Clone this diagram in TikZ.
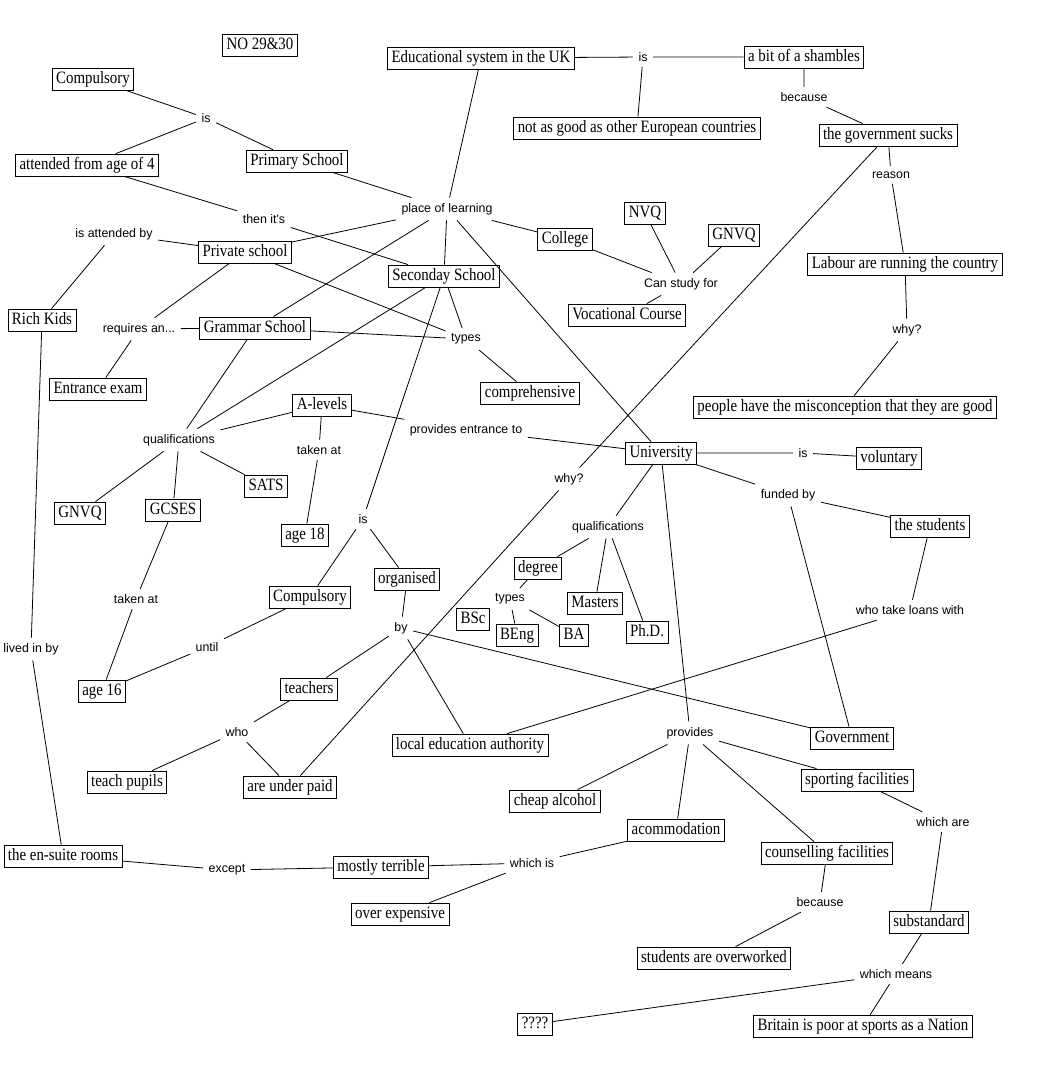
\documentclass[tikz,border=0pt]{standalone}
\usepackage{fontspec}
\setmainfont[FakeStretch=0.86]{Liberation Serif}
\newfontfamily\phrasefont{Liberation Sans}
\usepackage{tikz}

\tikzset{
  concept/.style={draw, line width=0.6pt, rectangle, inner xsep=3pt, inner ysep=2pt,
    text height=9.5pt, text depth=3pt, font=\fontsize{13}{15}\selectfont},
  phrase/.style={inner sep=4pt, font=\phrasefont\fontsize{9.3}{11}\selectfont},
  conn/.style={line width=0.6pt}
}

\begin{document}
\begin{tikzpicture}[x=0.75pt,y=-0.75pt]
  \useasboundingbox (0,0) rectangle (1048,1079);

  % Concepts, left half
  \node[concept] (no2930) at (260,45) {NO 29\&30};
  \node[concept] (compA) at (93,79) {Compulsory};
  \node[concept] (attended) at (87,165) {attended from age of 4};
  \node[concept] (primary) at (297,161) {Primary School};
  \node[concept] (private) at (245,252) {Private school};
  \node[concept] (secondary) at (444,276) {Seconday School};
  \node[concept] (rich) at (42,320) {Rich Kids};
  \node[concept] (grammar) at (255,328) {Grammar School};
  \node[concept] (entrance) at (98,389) {Entrance exam};
  \node[concept] (compr) at (530,393) {comprehensive};
  \node[concept] (alevels) at (322,405) {A-levels};
  \node[concept] (sats) at (266,486) {SATS};
  \node[concept] (gnvqB) at (80,513) {GNVQ};
  \node[concept] (gcses) at (173,510) {GCSES};
  \node[concept] (age18) at (305,535) {age 18};
  \node[concept] (compB) at (310,597) {Compulsory};
  \node[concept] (organised) at (407,579) {organised};
  \node[concept] (age16) at (102,691) {age 16};
  \node[concept] (teachers) at (309,689) {teachers};
  \node[concept] (lea) at (470,745) {local education authority};
  \node[concept] (pupils) at (127,782) {teach pupils};
  \node[concept] (underpaid) at (290,787) {are under paid};
  \node[concept] (ensuite) at (63,856) {the en-suite rooms};
  \node[concept] (terrible) at (381,867) {mostly terrible};
  \node[concept] (expensive) at (400,914) {over expensive};

  % Concepts, right half
  \node[concept] (edu) at (481,58) {Educational system in the UK};
  \node[concept] (shambles) at (804,57) {a bit of a shambles};
  \node[concept] (notgood) at (637,128) {not as good as other European countries};
  \node[concept] (govsucks) at (888,135) {the government sucks};
  \node[concept] (college) at (565,239) {College};
  \node[concept] (nvq) at (645,213) {NVQ};
  \node[concept] (gnvqA) at (734,235) {GNVQ};
  \node[concept] (labour) at (905,264) {Labour are running the country};
  \node[concept] (vocational) at (627,315) {Vocational Course};
  \node[concept] (people) at (845,407) {people have the misconception that they are good};
  \node[concept] (uni) at (661,453) {University};
  \node[concept] (voluntary) at (889,458) {voluntary};
  \node[concept] (students) at (930,526) {the students};
  \node[concept] (degree) at (538,568) {degree};
  \node[concept] (bsc) at (473,619) {BSc};
  \node[concept] (beng) at (517,635) {BEng};
  \node[concept] (ba) at (574,635) {BA};
  \node[concept] (masters) at (595,603) {Masters};
  \node[concept] (phd) at (647,632) {Ph.D.};
  \node[concept] (government) at (852,738) {Government};
  \node[concept] (alcohol) at (555,801) {cheap alcohol};
  \node[concept] (sporting) at (857,780) {sporting facilities};
  \node[concept] (accom) at (676,830) {acommodation};
  \node[concept] (counselling) at (827,853) {counselling facilities};
  \node[concept] (overworked) at (714,958) {students are overworked};
  \node[concept] (substandard) at (929,922) {substandard};
  \node[concept] (qmarks) at (535,1024) {????};
  \node[concept] (britain) at (863,1026) {Britain is poor at sports as a Nation};

  % Linking phrases
  \node[phrase] (lIs1) at (206,118) {is};
  \node[phrase] (lPlace) at (447,209) {place of learning};
  \node[phrase] (lThen) at (264,219) {then it's};
  \node[phrase] (lAttBy) at (114,234) {is attended by};
  \node[phrase] (lReq) at (139,329) {requires an...};
  \node[phrase] (lTypes1) at (466,339) {types};
  \node[phrase] (lQual1) at (179,440) {qualifications};
  \node[phrase] (lTaken1) at (319,450) {taken at};
  \node[phrase] (lProv) at (466,430) {provides entrance to};
  \node[phrase] (lIs2) at (363,519) {is};
  \node[phrase] (lTaken2) at (136,599) {taken at};
  \node[phrase] (lBy) at (401,628) {by};
  \node[phrase] (lLived) at (31,649) {lived in by};
  \node[phrase] (lUntil) at (207,647) {until};
  \node[phrase] (lWho) at (237,732) {who};
  \node[phrase] (lIs3) at (643,57) {is};
  \node[phrase] (lBec1) at (804,97) {because};
  \node[phrase] (lReason) at (891,175) {reason};
  \node[phrase] (lCan) at (681,284) {Can study for};
  \node[phrase] (lWhy1) at (907,330) {why?};
  \node[phrase] (lIs4) at (803,453) {is};
  \node[phrase] (lWhy2) at (569,479) {why?};
  \node[phrase] (lFund) at (788,495) {funded by};
  \node[phrase] (lQual2) at (608,527) {qualifications};
  \node[phrase] (lTypes2) at (510,599) {types};
  \node[phrase] (lLoans) at (910,610) {who take loans with};
  \node[phrase] (lProvides) at (690,733) {provides};
  \node[phrase] (lWhichAre) at (943,822) {which are};
  \node[phrase] (lWhichIs) at (532,863) {which is};
  \node[phrase] (lExcept) at (227,870) {except};
  \node[phrase] (lBec2) at (820,902) {because};
  \node[phrase] (lMeans) at (896,974) {which means};

  % Connections, schools
  \draw[conn] (compA) -- (lIs1) (lIs1) -- (attended) (lIs1) -- (primary);
  \draw[conn] (attended) -- (lThen) (lThen) -- (secondary);
  \draw[conn] (primary) -- (lPlace) (edu) -- (lPlace);
  \draw[conn] (lPlace) -- (private) (lPlace) -- (grammar) (lPlace) -- (secondary)
    (lPlace) -- (college) (lPlace) -- (uni);
  \draw[conn] (private) -- (lAttBy) (lAttBy) -- (rich);
  \draw[conn] (private) -- (lReq) (grammar) -- (lReq) (lReq) -- (entrance);
  \draw[conn] (private) -- (lTypes1) (grammar) -- (lTypes1) (secondary) -- (lTypes1)
    (lTypes1) -- (compr);
  \draw[conn] (grammar) -- (lQual1) (secondary) -- (lQual1);
  \draw[conn] (lQual1) -- (alevels) (lQual1) -- (gnvqB) (lQual1) -- (gcses) (lQual1) -- (sats);
  \draw[conn] (alevels) -- (lTaken1) (lTaken1) -- (age18);
  \draw[conn] (alevels) -- (lProv) (lProv) -- (uni);
  \draw[conn] (gcses) -- (lTaken2) (lTaken2) -- (age16);
  \draw[conn] (secondary) -- (lIs2) (lIs2) -- (compB) (lIs2) -- (organised);
  \draw[conn] (compB) -- (lUntil) (lUntil) -- (age16);
  \draw[conn] (organised) -- (lBy) (lBy) -- (teachers) (lBy) -- (lea) (lBy) -- (government);
  \draw[conn] (teachers) -- (lWho) (lWho) -- (pupils) (lWho) -- (underpaid);
  \draw[conn] (rich) -- (lLived) (lLived) -- (ensuite);

  % Connections, the system
  \draw[conn] (edu) -- (lIs3) (lIs3) -- (shambles) (lIs3) -- (notgood);
  \draw[conn] (shambles) -- (lBec1) (lBec1) -- (govsucks);
  \draw[conn] (govsucks) -- (lReason) (lReason) -- (labour);
  \draw[conn] (labour) -- (lWhy1) (lWhy1) -- (people);
  \draw[conn] (govsucks) -- (lWhy2) (lWhy2) -- (underpaid);
  \draw[conn] (college) -- (lCan) (nvq) -- (lCan) (gnvqA) -- (lCan) (lCan) -- (vocational);

  % Connections, university
  \draw[conn] (uni) -- (lIs4) (lIs4) -- (voluntary);
  \draw[conn] (uni) -- (lFund) (lFund) -- (students) (lFund) -- (government);
  \draw[conn] (students) -- (lLoans) (lLoans) -- (lea);
  \draw[conn] (uni) -- (lQual2) (lQual2) -- (degree) (lQual2) -- (masters) (lQual2) -- (phd);
  \draw[conn] (degree) -- (lTypes2) (lTypes2) -- (bsc) (lTypes2) -- (beng) (lTypes2) -- (ba);
  \draw[conn] (uni) -- (lProvides);
  \draw[conn] (lProvides) -- (alcohol) (lProvides) -- (accom) (lProvides) -- (counselling)
    (lProvides) -- (sporting);
  \draw[conn] (accom) -- (lWhichIs) (lWhichIs) -- (terrible) (lWhichIs) -- (expensive);
  \draw[conn] (terrible) -- (lExcept) (lExcept) -- (ensuite);
  \draw[conn] (counselling) -- (lBec2) (lBec2) -- (overworked);
  \draw[conn] (sporting) -- (lWhichAre) (lWhichAre) -- (substandard);
  \draw[conn] (substandard) -- (lMeans) (lMeans) -- (qmarks) (lMeans) -- (britain);
\end{tikzpicture}
\end{document}
